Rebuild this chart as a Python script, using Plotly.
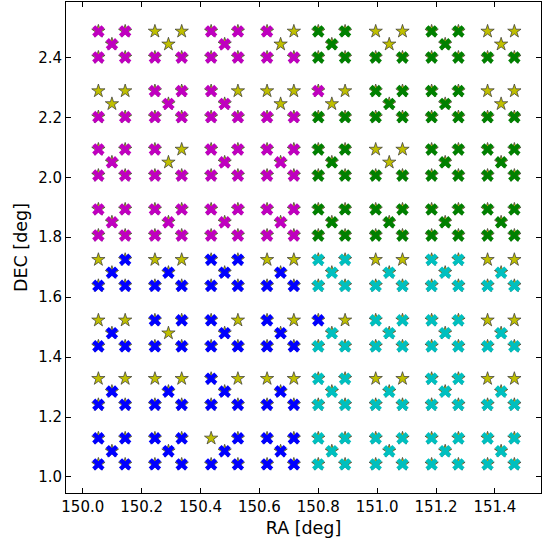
import plotly.graph_objects as go

# Lower-left RA of each group column (deg) and lower DEC of each group row (deg, top to bottom)
col_ra = [150.053, 150.245, 150.436, 150.626, 150.800, 150.995, 151.185, 151.375]
row_dec = [2.400, 2.201, 2.006, 1.806, 1.638, 1.436, 1.241, 1.042]

# Offsets of the five pointings inside one group: TL, TR, C, BL, BR
off_ra = [0.0, 0.091, 0.046, 0.0, 0.091]
off_dec = [0.087, 0.087, 0.044, 0.0, 0.0]

# Per-group status of TL,TR,C,BL,BR: 'x' observed (quadrant colour), 's' star only,
# 'm' magenta observed, 'b' blue observed
patterns = [
    ["xxxxx", "sssxx", "xxxxx", "xssxx", "xxxxx", "sssxx", "xxxxx", "sssxx"],
    ["sssxx", "xxxxx", "xsxxx", "sssxx", "mssxx", "xxxxx", "xxxxx", "sssxx"],
    ["xxxxx", "xssxx", "xxxxx", "xxxxx", "xxxxx", "sssxx", "xxxxx", "xxxxx"],
    ["xxxxx", "xxxxx", "xxxxx", "xxxxx", "xxxxx", "xxxxx", "xxxxx", "xxxxx"],
    ["sxxxx", "ssxxx", "xxxxx", "ssxxx", "xxxxx", "ssxxx", "xxxxx", "ssxxx"],
    ["ssxxx", "xxsxx", "xsxxx", "xsxxx", "bsxxx", "xxxxx", "xxxxx", "ssxxx"],
    ["ssxxx", "ssxxx", "xsxxx", "ssxxx", "xxxxx", "ssxxx", "xxxxx", "ssxxx"],
    ["xxxxx", "xxxxx", "sxxxx", "xxxxx", "xxxxx", "xxxxx", "xxxxx", "xxxxx"],
]

MAG, GRN, BLU, CYN, YEL = "#bf00bf", "#008000", "#0000ff", "#00bfbf", "#bfbf00"
override = {"m": MAG, "b": BLU}

star_x, star_y = [], []
xs = {}
for r, dec0 in enumerate(row_dec):
    for c, ra0 in enumerate(col_ra):
        if r < 4:
            qcol = MAG if c < 4 else GRN
        else:
            qcol = BLU if c < 4 else CYN
        for k in range(5):
            px = ra0 + off_ra[k]
            py = dec0 + off_dec[k]
            star_x.append(px)
            star_y.append(py)
            code = patterns[r][c][k]
            if code == "s":
                continue
            col = override.get(code, qcol)
            xs.setdefault(col, ([], []))
            xs[col][0].append(px)
            xs[col][1].append(py)

fig = go.Figure()
fig.add_trace(go.Scatter(
    x=star_x, y=star_y, mode="markers",
    marker=dict(symbol="star", size=10, color=YEL,
                line=dict(color="#333333", width=0.7)),
    showlegend=False, hoverinfo="skip"))
for col in [MAG, GRN, BLU, CYN]:
    if col in xs:
        fig.add_trace(go.Scatter(
            x=xs[col][0], y=xs[col][1], mode="markers",
            marker=dict(symbol="x", size=11, color=col, line=dict(width=0)),
            showlegend=False, hoverinfo="skip"))

font = "DejaVu Sans, Liberation Sans, sans-serif"
axis_common = dict(
    showline=True, linecolor="black", linewidth=1, mirror="ticks",
    ticks="inside", ticklen=5, tickcolor="black", tickwidth=1,
    showgrid=False, zeroline=False, tickformat=".1f", automargin=False,
    tickfont=dict(family=font, size=15, color="black"),
)
fig.update_layout(
    width=557, height=541,
    margin=dict(l=66, r=16, t=2, b=48, pad=0, autoexpand=False),
    paper_bgcolor="white", plot_bgcolor="white",
    xaxis=dict(range=[149.943, 151.5565], dtick=0.2, tick0=150.0,
               title=dict(text="RA [deg]", font=dict(family=font, size=17.5, color="black"), standoff=6),
               **axis_common),
    yaxis=dict(range=[0.9465, 2.585], dtick=0.2, tick0=1.0,
               title=dict(text="DEC [deg]", font=dict(family=font, size=17.5, color="black"), standoff=6),
               **axis_common),
)
fig.write_html("out.html")
